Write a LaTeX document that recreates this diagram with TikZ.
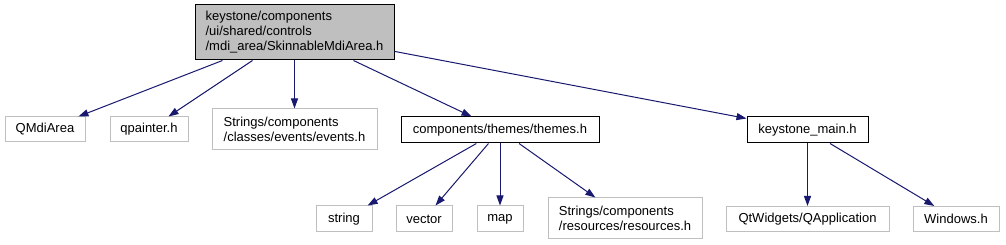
\documentclass[tikz,border=0pt]{standalone}
\usepackage{fontspec}
\setmainfont{Liberation Sans}
\usetikzlibrary{arrows.meta}
\definecolor{edgeblue}{HTML}{191970}
\definecolor{greyline}{HTML}{BFBFBF}
\begin{document}
\begin{tikzpicture}[x=1pt,y=-1pt,
  box/.style={draw, line width=1pt, inner sep=0pt, font=\fontsize{13}{15}\selectfont, align=left},
  ext/.style={box, draw=greyline},
  int/.style={box, draw=black},
  edge/.style={draw=edgeblue, line width=1pt, -{Triangle[length=10pt,width=7pt]}}]
\useasboundingbox (0,0) rectangle (1006,245);
\fill[white] (0,0) rectangle (1006,245);

\node[int, fill=greyline, minimum width=199pt, minimum height=55pt] (root) at (294.5,32.5)
  {keystone/components\\/ui/shared/controls\\/mdi\_area/SkinnableMdiArea.h};

\node[ext, minimum width=80pt, minimum height=25pt] (qmdi) at (45,129.5) {QMdiArea};
\node[ext, minimum width=78pt, minimum height=25pt] (qpainter) at (149,129.5) {qpainter.h};
\node[ext, minimum width=165pt, minimum height=41pt] (events) at (294.5,129.5)
  {Strings/components\\/classes/events/events.h};
\node[int, minimum width=198pt, minimum height=26pt] (themes) at (500,130) {components/themes/themes.h};
\node[int, minimum width=121pt, minimum height=26pt] (kmain) at (807.5,130) {keystone\_main.h};

\node[ext, minimum width=56pt, minimum height=26pt] (string) at (344,219) {string};
\node[ext, minimum width=56pt, minimum height=26pt] (vector) at (424,219) {vector};
\node[ext, minimum width=46pt, minimum height=26pt] (map) at (500,219) {map};
\node[ext, minimum width=154pt, minimum height=41pt] (resources) at (625,218.5)
  {Strings/components\\/resources/resources.h};
\node[ext, minimum width=163pt, minimum height=25pt] (qtw) at (807.5,219) {QtWidgets/QApplication};
\node[ext, minimum width=86pt, minimum height=25pt] (windows) at (956,219) {Windows.h};

\draw[edge] (root) -- (qmdi);
\draw[edge] (root) -- (qpainter);
\draw[edge] (root) -- (events);
\draw[edge] (root) -- (themes);
\draw[edge] (root) -- (kmain);
\draw[edge] (themes) -- (string);
\draw[edge] (themes) -- (vector);
\draw[edge] (themes) -- (map);
\draw[edge] (themes) -- (resources);
\draw[edge] (kmain) -- (qtw);
\draw[edge] (kmain) -- (windows);
\end{tikzpicture}
\end{document}
